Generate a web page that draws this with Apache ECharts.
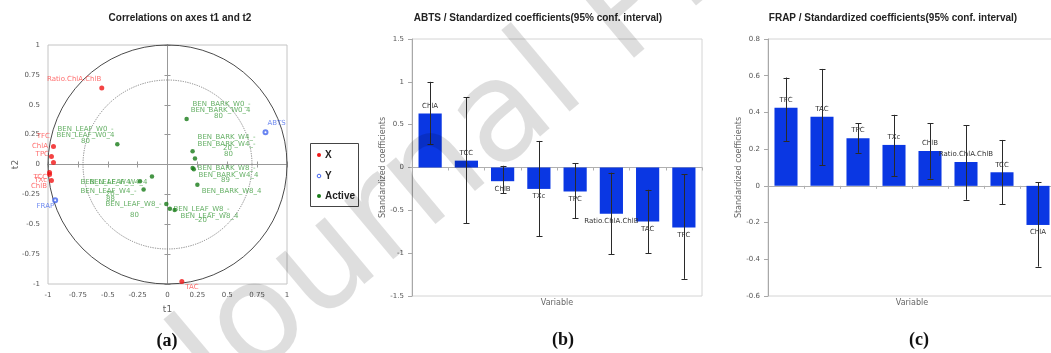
<!DOCTYPE html>
<html><head><meta charset="utf-8">
<script src="https://cdn.jsdelivr.net/npm/echarts/dist/echarts.min.js"></script>
<style>html,body{margin:0;padding:0;background:#fff}#c{width:1051px;height:353px}</style>
</head><body><div id="c"></div>
<script>
// ---------- Panel (a): correlation circle ----------
const xVarNames = ['Ratio.ChlA.ChlB','TFC','ChlA','TPC','TCC','TXc','ChlB','TAC'];
const xVarT1 = [-0.55, -0.954, -0.971, -0.954, -0.987, -0.987, -0.971, 0.12];
const xVarT2 = [0.64, 0.151, 0.067, 0.017, -0.067, -0.084, -0.134, -0.98];
const yVarNames = ['ABTS','FRAP'];
const yVarT1 = [0.82, -0.94];
const yVarT2 = [0.27, -0.30];
const activeT1 = [0.16, -0.42, 0.21, 0.23, 0.21, 0.22, 0.25, -0.13, -0.23, -0.20, -0.01, 0.02, 0.06];
const activeT2 = [0.38, 0.17, 0.11, 0.05, -0.03, -0.04, -0.17, -0.10, -0.14, -0.21, -0.33, -0.37, -0.38];
const obsLabelText = ['BEN_BARK_W0_-','BEN_BARK_W0_4','80','BEN_LEAF_W0_-','BEN_LEAF_W0_4','80',
  'BEN_BARK_W4_-','BEN_BARK_W4_-','20','80','BEN_BARK_W8_-','BEN_BARK_W4_4','89','BEN_BARK_W8_4',
  'BEN_LEAF_W4_-','BEN_LEAF_W4_4','BEN_LEAF_W4_-','20','88','BEN_LEAF_W8_-','80','BEN_LEAF_W8_-','BEN_LEAF_W8_4','20'];
const obsLabelT1 = [0.452,0.444,0.427,-0.686,-0.686,-0.686,0.494,0.494,0.502,0.51,0.494,0.51,0.485,0.536,
  -0.494,-0.41,-0.494,-0.48,-0.477,-0.285,-0.276,0.285,0.351,0.293];
const obsLabelT2 = [0.502,0.452,0.402,0.293,0.243,0.192,0.226,0.167,0.134,0.084,-0.033,-0.092,-0.134,-0.226,
  -0.151,-0.151,-0.226,-0.25,-0.293,-0.335,-0.427,-0.377,-0.435,-0.469];
const circleRadii = [1, 0.707];

// ---------- Panel (b): ABTS ----------
const catsB = ['ChlA','TCC','ChlB','TXc','TPC','Ratio.ChlA.ChlB','TAC','TFC'];
const abtsCoef = [0.63, 0.08, -0.16, -0.25, -0.28, -0.54, -0.63, -0.70];
const abtsLow  = [0.27, -0.65, -0.30, -0.80, -0.59, -1.01, -1.00, -1.30];
const abtsHigh = [1.00, 0.82, 0.02, 0.31, 0.05, -0.06, -0.26, -0.08];

// ---------- Panel (c): FRAP ----------
const catsC = ['TFC','TAC','TPC','TXc','ChlB','Ratio.ChlA.ChlB','TCC','ChlA'];
const frapCoef = [0.425, 0.376, 0.26, 0.223, 0.19, 0.13, 0.074, -0.213];
const frapLow  = [0.245, 0.114, 0.18, 0.054, 0.04, -0.076, -0.10, -0.44];
const frapHigh = [0.59, 0.637, 0.34, 0.387, 0.34, 0.33, 0.25, 0.02];

// ---------- styles ----------
const FONT = 'DejaVu Sans';
const redLabelPlace = [
  {position:'left', offset:[2,-9]}, {position:'left', offset:[-1,-10]}, {position:'left', offset:[-1,-10]},
  {position:'left', offset:[-2,-8]}, {position:'left', offset:[0,5]}, {position:'left', offset:[0,6]},
  {position:'left', offset:[-2,6]}, {position:'right', offset:[1,6]}];
const blueLabelPlace = [{position:'right', offset:[-1,-9]}, {position:'left', offset:[2,6]}];

const chart = echarts.init(document.getElementById('c'), null, {renderer:'canvas'});

function circleRender(params, api) {
  const c = api.coord([0, 0]);
  const e = api.coord([api.value(2), 0]);
  const outer = params.dataIndex === 0;
  return {type:'circle', shape:{cx:c[0], cy:c[1], r:e[0]-c[0]},
    style:{fill:'none', stroke: outer ? '#4a4a4a' : '#777', lineWidth: outer ? 1 : 0.9, lineDash: outer ? null : [1.2,1.2]}};
}
function errRender(params, api) {
  const i = api.value(0);
  const lo = api.coord([i, api.value(1)]);
  const hi = api.coord([i, api.value(2)]);
  const w = 3, st = {stroke:'#2a2a2a', lineWidth:1};
  const x = Math.round(lo[0]) + 0.5;
  return {type:'group', children:[
    {type:'line', shape:{x1:x, y1:lo[1], x2:x, y2:hi[1]}, style:st},
    {type:'line', shape:{x1:x-w, y1:Math.round(lo[1])+0.5, x2:x+w, y2:Math.round(lo[1])+0.5}, style:st},
    {type:'line', shape:{x1:x-w, y1:Math.round(hi[1])+0.5, x2:x+w, y2:Math.round(hi[1])+0.5}, style:st}
  ]};
}
function barData(vals) {
  return vals.map(v => ({value:v, label:{position: v >= 0 ? 'top' : 'bottom'}}));
}

const tickLabel = {fontSize:7, color:'#555', fontFamily:FONT};
const nameStyle = {fontSize:8, color:'#666', fontFamily:FONT};

const option = {
  animation:false,
  grid:[
    {left:48, top:45, width:239, height:239, show:true, borderColor:'#c4c4c4', borderWidth:1, outerBoundsMode:'none', containLabel:false},
    {left:412, top:39, width:290, height:257, show:true, borderColor:'#d4d4d4', borderWidth:1, outerBoundsMode:'none', containLabel:false},
    {left:768, top:39, width:288, height:257, show:true, borderColor:'#d4d4d4', borderWidth:1, outerBoundsMode:'none', containLabel:false}
  ],
  xAxis:[
    {gridIndex:0, type:'value', min:-1, max:1, interval:0.25, position:'bottom',
     axisLine:{show:false, onZero:false}, axisTick:{show:false}, splitLine:{show:false},
     axisLabel:Object.assign({margin:8}, tickLabel),
     name:'t1', nameLocation:'middle', nameGap:21, nameMoveOverlap:false,
     nameTextStyle:{fontSize:9, color:'#666', fontFamily:FONT}},
    {gridIndex:0, type:'value', min:-1, max:1, interval:0.25, position:'bottom',
     axisLine:{show:true, onZero:true, lineStyle:{color:'#999', width:1}},
     axisTick:{show:true, length:3, lineStyle:{color:'#999'}}, axisLabel:{show:false}, splitLine:{show:false}},
    {gridIndex:0, type:'value', min:-1, max:1, interval:0.25, position:'top',
     axisLine:{show:true, onZero:true, lineStyle:{color:'#999', width:1}},
     axisTick:{show:true, length:3, lineStyle:{color:'#999'}}, axisLabel:{show:false}, splitLine:{show:false}},
    {gridIndex:1, type:'category', data:catsB, position:'bottom',
     axisLine:{show:true, onZero:true, lineStyle:{color:'#b0b0b0'}},
     axisTick:{show:true, length:3, interval:0, lineStyle:{color:'#b0b0b0'}}, axisLabel:{show:false}},
    {gridIndex:1, type:'category', data:catsB, position:'bottom',
     axisLine:{show:false, onZero:false}, axisTick:{show:false}, axisLabel:{show:false},
     name:'Variable', nameLocation:'middle', nameGap:3, nameMoveOverlap:false, nameTextStyle:nameStyle},
    {gridIndex:2, type:'category', data:catsC, position:'bottom',
     axisLine:{show:true, onZero:true, lineStyle:{color:'#b0b0b0'}},
     axisTick:{show:true, length:3, interval:0, lineStyle:{color:'#b0b0b0'}}, axisLabel:{show:false}},
    {gridIndex:2, type:'category', data:catsC, position:'bottom',
     axisLine:{show:false, onZero:false}, axisTick:{show:false}, axisLabel:{show:false},
     name:'Variable', nameLocation:'middle', nameGap:3, nameMoveOverlap:false, nameTextStyle:nameStyle}
  ],
  yAxis:[
    {gridIndex:0, type:'value', min:-1, max:1, interval:0.25, position:'left',
     axisLine:{show:false, onZero:false}, axisTick:{show:false}, splitLine:{show:false},
     axisLabel:Object.assign({margin:8}, tickLabel),
     name:'t2', nameLocation:'middle', nameGap:28, nameMoveOverlap:false,
     nameTextStyle:{fontSize:9, color:'#666', fontFamily:FONT}},
    {gridIndex:0, type:'value', min:-1, max:1, interval:0.25, position:'left',
     axisLine:{show:true, onZero:true, lineStyle:{color:'#999', width:1}},
     axisTick:{show:true, length:3, lineStyle:{color:'#999'}}, axisLabel:{show:false}, splitLine:{show:false}},
    {gridIndex:0, type:'value', min:-1, max:1, interval:0.25, position:'right',
     axisLine:{show:true, onZero:true, lineStyle:{color:'#999', width:1}},
     axisTick:{show:true, length:3, lineStyle:{color:'#999'}}, axisLabel:{show:false}, splitLine:{show:false}},
    {gridIndex:1, type:'value', min:-1.5, max:1.5, interval:0.5,
     axisLine:{show:true, onZero:false, lineStyle:{color:'#a8a8a8'}},
     axisTick:{show:true, length:4, lineStyle:{color:'#a8a8a8'}}, splitLine:{show:false},
     axisLabel:Object.assign({margin:8}, tickLabel),
     name:'Standardized coefficients', nameLocation:'middle', nameGap:25, nameMoveOverlap:false, nameTextStyle:nameStyle},
    {gridIndex:2, type:'value', min:-0.6, max:0.8, interval:0.2,
     axisLine:{show:true, onZero:false, lineStyle:{color:'#a8a8a8'}},
     axisTick:{show:true, length:4, lineStyle:{color:'#a8a8a8'}}, splitLine:{show:false},
     axisLabel:Object.assign({margin:8, formatter: v => String(Math.round(v*10)/10)}, tickLabel),
     name:'Standardized coefficients', nameLocation:'middle', nameGap:25, nameMoveOverlap:false, nameTextStyle:nameStyle}
  ],
  series:[
    {type:'custom', name:'circles', xAxisIndex:0, yAxisIndex:0, silent:true, z:1,
     data: circleRadii.map(r => [0, 0, r]), encode:{x:0, y:1}, renderItem: circleRender, clip:false},
    {type:'scatter', name:'Active', xAxisIndex:0, yAxisIndex:0, symbol:'circle', symbolSize:4.5, z:3,
     itemStyle:{color:'#177a17'}, data: activeT1.map((v,i) => [v, activeT2[i]])},
    {type:'scatter', name:'obsLabels', xAxisIndex:0, yAxisIndex:0, symbolSize:1, z:2, silent:true,
     itemStyle:{color:'rgba(0,0,0,0)'},
     label:{show:true, position:'inside', formatter:'{b}', fontSize:7, color:'#3d9b3d', fontFamily:FONT},
     data: obsLabelText.map((t,i) => ({name:t, value:[obsLabelT1[i], obsLabelT2[i]]}))},
    {type:'scatter', name:'X', xAxisIndex:0, yAxisIndex:0, symbol:'circle', symbolSize:5, z:4,
     itemStyle:{color:'#f01414'},
     label:{show:true, formatter:'{b}', fontSize:7, color:'#ff4a4a', fontFamily:FONT, distance:0},
     data: xVarNames.map((n,i) => ({name:n, value:[xVarT1[i], xVarT2[i]], label:redLabelPlace[i]}))},
    {type:'scatter', name:'Y', xAxisIndex:0, yAxisIndex:0, symbol:'emptyCircle', symbolSize:4, z:4,
     itemStyle:{color:'#4466ee', borderWidth:1},
     label:{show:true, formatter:'{b}', fontSize:7, color:'#4d6fee', fontFamily:FONT, distance:0},
     data: yVarNames.map((n,i) => ({name:n, value:[yVarT1[i], yVarT2[i]], label:blueLabelPlace[i]}))},

    {type:'bar', name:'ABTS', xAxisIndex:3, yAxisIndex:3, barWidth:'64%', z:2,
     itemStyle:{color:'#0a37e3'},
     label:{show:true, formatter:'{b}', fontSize:7, color:'#333', fontFamily:FONT, distance:4},
     data: barData(abtsCoef)},
    {type:'custom', name:'ABTS CI', xAxisIndex:3, yAxisIndex:3, z:5, silent:true,
     data: catsB.map((c,i) => [i, abtsLow[i], abtsHigh[i]]), encode:{x:0, y:[1,2]}, renderItem: errRender},
    {type:'bar', name:'FRAP', xAxisIndex:5, yAxisIndex:4, barWidth:'64%', z:2,
     itemStyle:{color:'#0a37e3'},
     label:{show:true, formatter:'{b}', fontSize:7, color:'#333', fontFamily:FONT, distance:4},
     data: barData(frapCoef)},
    {type:'custom', name:'FRAP CI', xAxisIndex:5, yAxisIndex:4, z:5, silent:true,
     data: catsC.map((c,i) => [i, frapLow[i], frapHigh[i]]), encode:{x:0, y:[1,2]}, renderItem: errRender}
  ],
  graphic:[
    {type:'text', x:180, y:18, style:{text:'Correlations on axes t1 and t2', font:'bold 10px "Liberation Sans"', fill:'#222', align:'center', verticalAlign:'middle'}},
    {type:'text', x:538, y:18, style:{text:'ABTS / Standardized coefficients(95% conf. interval)', font:'bold 10px "Liberation Sans"', fill:'#222', align:'center', verticalAlign:'middle'}},
    {type:'text', x:893, y:18, style:{text:'FRAP / Standardized coefficients(95% conf. interval)', font:'bold 10px "Liberation Sans"', fill:'#222', align:'center', verticalAlign:'middle'}},
    {type:'text', x:167, y:341, style:{text:'(a)', font:'bold 18px "Liberation Serif"', fill:'#111', align:'center', verticalAlign:'middle'}},
    {type:'text', x:563, y:340, style:{text:'(b)', font:'bold 18px "Liberation Serif"', fill:'#111', align:'center', verticalAlign:'middle'}},
    {type:'text', x:919, y:340, style:{text:'(c)', font:'bold 18px "Liberation Serif"', fill:'#111', align:'center', verticalAlign:'middle'}},
    // legend box
    {type:'rect', shape:{x:310.5, y:143.5, width:48, height:63}, style:{fill:'#fff', stroke:'#444', lineWidth:1}},
    {type:'circle', shape:{cx:319, cy:155, r:2}, style:{fill:'#f01414'}},
    {type:'circle', shape:{cx:319, cy:176, r:1.8}, style:{fill:'#fff', stroke:'#4466ee', lineWidth:1}},
    {type:'circle', shape:{cx:319, cy:196, r:2}, style:{fill:'#177a17'}},
    {type:'text', x:325, y:155, style:{text:'X', font:'bold 10px "Liberation Sans"', fill:'#222', verticalAlign:'middle'}},
    {type:'text', x:325, y:176, style:{text:'Y', font:'bold 10px "Liberation Sans"', fill:'#222', verticalAlign:'middle'}},
    {type:'text', x:325, y:196, style:{text:'Active', font:'bold 10px "Liberation Sans"', fill:'#222', verticalAlign:'middle'}},
    // watermark
    {type:'text', x:240, y:432, rotation:40*Math.PI/180, silent:true, z:100,
     style:{text:'Journal Pre-proof', font:'140px "DejaVu Sans"', fill:'rgba(0,0,0,0.13)', align:'left', verticalAlign:'bottom'}}
  ]
};
chart.setOption(option);
</script></body></html>
